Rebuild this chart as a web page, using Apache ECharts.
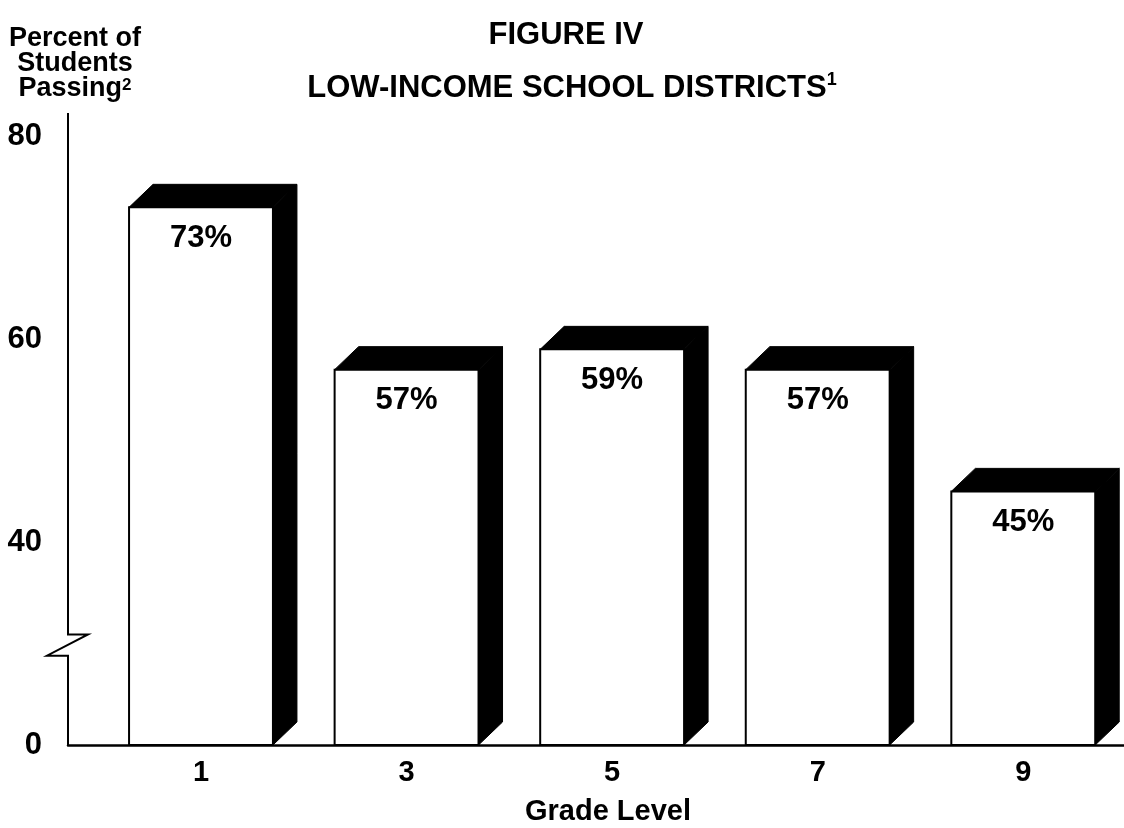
<!DOCTYPE html>
<html>
<head>
<meta charset="utf-8">
<script src="https://cdn.jsdelivr.net/npm/echarts/dist/echarts.min.js"></script>
<style>
html,body{margin:0;padding:0;background:#fff;}
#c{width:1124px;height:828px;}
</style>
</head>
<body>
<div id="c"></div>
<script>
// ---- data ----
const grades = [1, 3, 5, 7, 9];
const passing = [73, 57, 59, 57, 45];
// broken axis: the visible origin (value 20 on the scale) is labelled "0"
const yTickValues = [20, 40, 60, 80];
const yTickLabels = ['0', '40', '60', '80'];
const xTickValues = [1, 3, 5, 7, 9];
const titleLine1 = 'FIGURE IV';
const titleLine2 = 'LOW-INCOME SCHOOL DISTRICTS';
const titleNote = '1';
const yNameLines = ['Percent of', 'Students', 'Passing'];
const yNameNote = '2';
const xName = 'Grade Level';

// ---- scale setup ----
const Y_MIN = 20, Y_MAX = 82.3;
const X_MIN = -0.294, X_MAX = 9.98;
const BAR_W = 1.4;           // in grade units
const BREAK_TOP = 30.9, BREAK_BOTTOM = 28.8;
const FONT = '"Liberation Sans", Arial, Helvetica, sans-serif';

const chart = echarts.init(document.getElementById('c'));

const seriesData = grades.map((g, i) => [g, passing[i]]);

chart.setOption({
  animation: false,
  backgroundColor: '#fff',
  grid: { left: 68, right: 0, top: 113, bottom: 83, containLabel: false },
  xAxis: {
    type: 'value', min: X_MIN, max: X_MAX,
    axisLine: { show: true, lineStyle: { color: '#000', width: 2.5 } },
    axisTick: { show: false },
    splitLine: { show: false },
    axisLabel: {
      customValues: xTickValues,
      color: '#000', fontFamily: FONT, fontWeight: 'bold', fontSize: 29, margin: 13,
      formatter: v => String(v)
    }
  },
  yAxis: {
    type: 'value', min: Y_MIN, max: Y_MAX, interval: 20,
    axisLine: { show: false },
    axisTick: { show: false },
    splitLine: { show: false },
    axisLabel: {
      color: '#000', fontFamily: FONT, fontWeight: 'bold', fontSize: 31, margin: 26,
      formatter: v => {
        const k = yTickValues.indexOf(Math.round(v * 1000) / 1000);
        return k >= 0 ? yTickLabels[k] : '';
      }
    }
  },
  series: [{
    type: 'custom',
    clip: false,
    data: seriesData,
    renderItem: function (params, api) {
      const g = api.value(0), v = api.value(1);
      const top = api.coord([g, v]);
      const base = api.coord([g, Y_MIN]);
      const w = api.size([BAR_W, 0])[0];
      const x0 = top[0] - w / 2, x1 = top[0] + w / 2;
      const yT = top[1], yB = base[1];
      const dx = 24, dy = 23;
      return {
        type: 'group',
        children: [
          { type: 'polygon', shape: { points: [[x0, yT], [x0 + dx, yT - dy], [x1 + dx, yT - dy], [x1, yT]] },
            style: { fill: '#000', stroke: '#000', lineWidth: 1 } },
          { type: 'polygon', shape: { points: [[x1, yT], [x1 + dx, yT - dy], [x1 + dx, yB - dy], [x1, yB]] },
            style: { fill: '#000', stroke: '#000', lineWidth: 1 } },
          { type: 'rect', shape: { x: x0, y: yT, width: w, height: yB - yT },
            style: { fill: '#fff', stroke: '#000', lineWidth: 2 } },
          { type: 'text',
            style: { text: v + '%', x: top[0], y: yT + 31,
              align: 'center', verticalAlign: 'middle',
              textAlign: 'center', textVerticalAlign: 'middle',
              font: 'bold 31px ' + FONT, fill: '#000' } }
        ]
      };
    }
  }]
});

// axis line with break drawn from the axis scale
function px(v) { return chart.convertToPixel({ gridIndex: 0 }, [X_MIN, v]); }
const pTop = px(Y_MAX), pBt = px(BREAK_TOP), pBb = px(BREAK_BOTTOM), pBot = px(Y_MIN);
const ax = pTop[0];

function txt(text, x, y, size, lineHeight, extraRich) {
  return {
    type: 'text', x: x, y: y,
    style: { text: text, font: 'bold ' + size + 'px ' + FONT, fill: '#000',
      lineHeight: lineHeight,
      align: 'center', verticalAlign: 'middle',
      textAlign: 'center', textVerticalAlign: 'middle',
      rich: extraRich || {} }
  };
}

const supTitle = { sup: { font: 'bold 18px ' + FONT, fill: '#000', verticalAlign: 'top', lineHeight: 34 } };
const supName = { sup: { font: 'bold 17px ' + FONT, fill: '#000', verticalAlign: 'top', lineHeight: 25 } };

chart.setOption({
  graphic: [
    { type: 'polyline',
      shape: { points: [[ax, pTop[1]], [ax, pBt[1]], [ax + 20, pBt[1]], [ax - 21, pBb[1]], [ax, pBb[1]], [ax, pBot[1]]] },
      style: { stroke: '#000', lineWidth: 2, fill: null } },
    txt(titleLine1, 566, 35, 31, 34),
    txt(titleLine2 + '{sup|' + titleNote + '}', 572, 88, 31, 34, supTitle),
    txt(yNameLines[0] + '\n' + yNameLines[1] + '\n' + yNameLines[2] + '{sup|' + yNameNote + '}', 75, 64, 27, 25, supName),
    txt(xName, 608, 812, 29, 32)
  ]
});
</script>
</body>
</html>
